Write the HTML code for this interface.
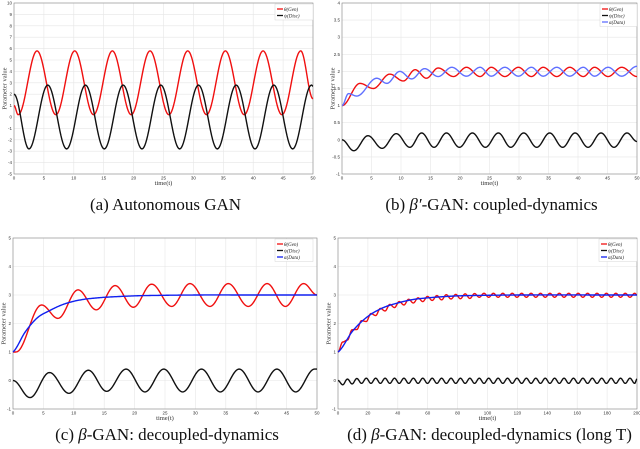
<!DOCTYPE html>
<html><head><meta charset="utf-8"><style>
html,body{margin:0;padding:0;background:#fff;}
svg{display:block;font-family:"Liberation Serif",serif;}
</style></head><body>
<svg id="fig" width="640" height="449" viewBox="0 0 640 449" xmlns="http://www.w3.org/2000/svg"></svg>
<script>
// ---- Panel (a) data: extrema times/values ----
const aRedT = [0,0.7,3.85,7.0,10.15,13.3,16.45,19.6,22.75,25.9,29.05,32.2,35.35,38.5,41.65,44.8,47.95,50];
const aRedV = [1,0.2,5.8,0.2,5.8,0.2,5.8,0.2,5.8,0.2,5.8,0.2,5.8,0.2,5.8,0.2,5.8,1.6];
const aBlkT = [0,2.5,5.65,8.8,11.95,15.1,18.25,21.4,24.55,27.7,30.85,34,37.15,40.3,43.45,46.6,49.75,50];
const aBlkV = [2,-2.8,2.8,-2.8,2.8,-2.8,2.8,-2.8,2.8,-2.8,2.8,-2.8,2.8,-2.8,2.8,-2.8,2.8,2.7];
// ---- Panel (b) ----
const bRedT = [0,3.05,5.3,8.1,10.4,12.4,14.3,16.3,18.9,21.1,23.4,25.3,27.6,29.9,32.1,34.1,36.4,38.6,40.9,42.8,45.1,47.4,50];
const bRedV = [1,1.65,1.5,1.92,1.72,2.05,1.8,2.1,1.85,2.12,1.85,2.12,1.85,2.12,1.85,2.12,1.85,2.12,1.85,2.12,1.85,2.12,1.85];
const bBluT = [0,1.1,2.5,5.9,7.6,9.8,11.8,14.0,16.3,18.6,21.1,23.4,25.3,27.6,29.9,32.1,34.1,36.4,38.6,40.9,42.8,45.1,47.4,50];
const bBluV = [1,1.35,1.28,1.8,1.65,2.0,1.78,2.08,1.85,2.12,1.86,2.12,1.86,2.12,1.86,2.12,1.86,2.12,1.86,2.12,1.86,2.12,1.86,2.15];
const bBlkT = [0,2.0,4.4,6.8,9.2,11.5,13.5,15.6,17.7,19.9,22.1,24.3,26.5,28.6,30.8,33.0,35.2,37.4,39.5,41.7,43.9,46.1,48.3,50];
const bBlkV = [0,-0.32,0.12,-0.25,0.18,-0.22,0.2,-0.22,0.2,-0.22,0.2,-0.22,0.2,-0.22,0.2,-0.22,0.2,-0.22,0.2,-0.22,0.2,-0.22,0.2,-0.05];
// ---- Panel (c) ----
const cRedT = [0,0.5,4.7,7.4,10.7,13.7,16.8,19.8,22.8,26.1,29.1,32.4,35.4,38.7,41.8,44.8,47.8,50];
const cRedV = [1,1,2.65,2.18,3.18,2.48,3.33,2.57,3.38,2.6,3.4,2.6,3.4,2.6,3.4,2.6,3.4,3.0];
const cBluT = [0,2,4,6,8,10,12,15,20,25,30,40,50];
const cBluV = [1,1.7,2.2,2.45,2.65,2.78,2.86,2.92,2.97,2.99,3,3,3];
const cBlkT = [0,2.8,6.0,9.2,12.4,15.4,18.6,21.7,24.8,27.9,31.0,34.1,37.2,40.3,43.4,46.5,49.6,50];
const cBlkV = [0,-0.6,0.28,-0.45,0.36,-0.38,0.4,-0.4,0.4,-0.4,0.4,-0.4,0.4,-0.4,0.4,-0.4,0.4,0.4];
// ---- Panel (d) ----
const dT = [0,3.15,6.3,9.45,12.6,15.75,18.9,22.05,25.2,28.35,31.5,34.65,37.8,40.95,44.1,47.25,50.4,53.55,56.7,59.85,63,66.15,69.3,72.45,75.6,78.75,81.9,85.05,88.2,91.35,94.5,97.65,100.8,103.95,107.1,110.25,113.4,116.55,119.7,122.85,126,129.15,132.3,135.45,138.6,141.75,144.9,148.05,151.2,154.35,157.5,160.65,163.8,166.95,170.1,173.25,176.4,179.55,182.7,185.85,189,192.15,195.3,198.45,200];
const dRedV = [1.0,1.35,1.42,1.78,1.79,2.10,2.07,2.35,2.28,2.53,2.44,2.67,2.56,2.77,2.65,2.85,2.72,2.90,2.77,2.95,2.81,2.98,2.83,3.01,2.86,3.02,2.87,3.04,2.88,3.05,2.92,3.06,2.92,3.06,2.92,3.06,2.92,3.06,2.92,3.06,2.92,3.06,2.92,3.06,2.92,3.06,2.92,3.06,2.92,3.06,2.92,3.06,2.92,3.06,2.92,3.06,2.92,3.06,2.92,3.06,2.92,3.06,2.92,3.06,3.0];
const dBlkV = [0,-0.15,0.05,-0.12,0.07,-0.1,0.08,-0.1,0.08,-0.1,0.08,-0.1,0.08,-0.1,0.08,-0.1,0.08,-0.1,0.08,-0.1,0.08,-0.1,0.08,-0.1,0.08,-0.1,0.08,-0.1,0.08,-0.1,0.08,-0.1,0.08,-0.1,0.08,-0.1,0.08,-0.1,0.08,-0.1,0.08,-0.1,0.08,-0.1,0.08,-0.1,0.08,-0.1,0.08,-0.1,0.08,-0.1,0.08,-0.1,0.08,-0.1,0.08,-0.1,0.08,-0.1,0.08,-0.1,0.08,-0.1,0.05];
const dBluT = [0,10,20,30,40,50,60,70,80,100,120,200];
const dBluV = [1,1.75,2.25,2.55,2.72,2.84,2.9,2.94,2.97,2.99,3,3];
// ---- tick labels ----
const xTicks50 = [0,5,10,15,20,25,30,35,40,45,50];
const xTicks200 = [0,20,40,60,80,100,120,140,160,180,200];
const yTicksA = [-5,-4,-3,-2,-1,0,1,2,3,4,5,6,7,8,9,10];
const yTicksB = [-1,-0.5,0,0.5,1,1.5,2,2.5,3,3.5,4];
const yTicksC = [-1,0,1,2,3,4,5];

const NS = "http://www.w3.org/2000/svg";
const svg = document.getElementById('fig');
function mk(tag, attrs, parent){const e=document.createElementNS(NS,tag);for(const k in attrs)e.setAttribute(k,attrs[k]);(parent||svg).appendChild(e);return e;}

const panels = [
 {id:'a',x0:14,x1:313,y0:3,y1:174,xmin:0,xmax:50,ymin:-5,ymax:10,xt:xTicks50,yt:yTicksA,cap:[['(a)  Autonomous GAN',0]],capY:210,
  series:[{n:'theta-gen',t:aRedT,v:aRedV,c:'#f01010',m:'cos'},{n:'psi-disc',t:aBlkT,v:aBlkV,c:'#111',m:'cos'}],
  leg:{x:275,y:4,w:38}},
 {id:'b',x0:342,x1:637,y0:3,y1:174,xmin:0,xmax:50,ymin:-1,ymax:4,xt:xTicks50,yt:yTicksB,cap:[['(b)  ',0],['β′',1],['-GAN: coupled-dynamics',0]],capY:210,
  series:[{n:'theta-gen',t:bRedT,v:bRedV,c:'#f01010',m:'cos'},{n:'psi-disc',t:bBlkT,v:bBlkV,c:'#111',m:'cos'},{n:'alpha-data',t:bBluT,v:bBluV,c:'#6070ff',m:'cos'}],
  leg:{x:600,y:4,w:37}},
 {id:'c',x0:13,x1:317,y0:238,y1:409,xmin:0,xmax:50,ymin:-1,ymax:5,xt:xTicks50,yt:yTicksC,cap:[['(c)  ',0],['β',1],['-GAN: decoupled-dynamics',0]],capY:440,
  series:[{n:'theta-gen',t:cRedT,v:cRedV,c:'#f01010',m:'cos'},{n:'psi-disc',t:cBlkT,v:cBlkV,c:'#111',m:'cos'},{n:'alpha-data',t:cBluT,v:cBluV,c:'#1020f0',m:'cr'}],
  leg:{x:275,y:239,w:38}},
 {id:'d',x0:338,x1:637,y0:238,y1:409,xmin:0,xmax:200,ymin:-1,ymax:5,xt:xTicks200,yt:yTicksC,cap:[['(d)  ',0],['β',1],['-GAN: decoupled-dynamics (long T)',0]],capY:440,
  series:[{n:'theta-gen',t:dT,v:dRedV,c:'#f01010',m:'cos'},{n:'psi-disc',t:dT,v:dBlkV,c:'#111',m:'cos'},{n:'alpha-data',t:dBluT,v:dBluV,c:'#1020f0',m:'cr'}],
  leg:{x:599,y:239,w:38}}
];
const legNames = {'theta-gen':'θ(Gen)','psi-disc':'ψ(Disc)','alpha-data':'α(Data)'};

panels.forEach(p=>{
  const g = mk('g',{});
  
  
  const sx = t=>p.x0+(t-p.xmin)/(p.xmax-p.xmin)*(p.x1-p.x0);
  const sy = v=>p.y1-(v-p.ymin)/(p.ymax-p.ymin)*(p.y1-p.y0);
  const bg = mk('rect',{x:p.x0,y:p.y0,width:p.x1-p.x0,height:p.y1-p.y0,fill:'#fff',stroke:'none'},g);
  
  
  p.xt.forEach(t=>{
    const l=mk('line',{x1:sx(t),x2:sx(t),y1:p.y0,y2:p.y1,stroke:'#e6e6e6','stroke-width':0.6},g);
    
    
    const tx=mk('text',{x:sx(t),y:p.y1+5.5,'font-size':4.5,'text-anchor':'middle',fill:'#333','font-family':'Liberation Sans, sans-serif'},g);
    tx.textContent=t;
    
    
  });
  p.yt.forEach(v=>{
    const l=mk('line',{x1:p.x0,x2:p.x1,y1:sy(v),y2:sy(v),stroke:'#e6e6e6','stroke-width':0.6},g);
    
    
    const tx=mk('text',{x:p.x0-2,y:sy(v)+1.5,'font-size':4.5,'text-anchor':'end',fill:'#333','font-family':'Liberation Sans, sans-serif'},g);
    tx.textContent=v;
    
    
  });
  const fr=mk('rect',{x:p.x0,y:p.y0,width:p.x1-p.x0,height:p.y1-p.y0,fill:'none',stroke:'#888','stroke-width':0.6},g);
  
  
  p.series.forEach(s=>{
    let d='';
    const N=s.t.length;
    for(let i=0;i<N-1;i++){
      const steps=20;
      for(let k=0;k<=steps;k++){
        if(i>0&&k===0)continue;
        const u=k/steps;
        const t=s.t[i]+(s.t[i+1]-s.t[i])*u;
        let v;
        if(s.m==='cos'){v=s.v[i]+(s.v[i+1]-s.v[i])*(1-Math.cos(Math.PI*u))/2;}
        else{
          const p0=s.v[Math.max(0,i-1)],p1=s.v[i],p2=s.v[i+1],p3=s.v[Math.min(N-1,i+2)];
          v=0.5*((2*p1)+(-p0+p2)*u+(2*p0-5*p1+4*p2-p3)*u*u+(-p0+3*p1-3*p2+p3)*u*u*u);
        }
        d+=(d?'L':'M')+sx(t).toFixed(2)+' '+sy(v).toFixed(2);
      }
    }
    const path=mk('path',{d:d,fill:'none',stroke:s.c,'stroke-width':1.4,'stroke-linejoin':'round'},g);
    
    
  });
  const L=p.leg;
  const lh=6.5*p.series.length+3;
  const lg=mk('g',{},g);
  
  
  mk('rect',{x:L.x,y:L.y,width:L.w,height:lh,fill:'#fff',stroke:'#ccc','stroke-width':0.4},lg);
  p.series.forEach((s,i)=>{
    const yy=L.y+5+i*6.5;
    const ln=mk('line',{x1:L.x+2,x2:L.x+8,y1:yy,y2:yy,stroke:s.c,'stroke-width':1.3},lg);
    
    
    const tx=mk('text',{x:L.x+9,y:yy+1.8,'font-size':5,'font-style':'italic',fill:'#222'},lg);
    tx.textContent=legNames[s.n];
    
    
  });
  const xl=mk('text',{x:(p.x0+p.x1)/2,y:p.y1+11,'font-size':6.5,'text-anchor':'middle',fill:'#333'},g);
  xl.textContent='time(t)';
  
  
  const yx=p.x0-7.5, yc=(p.y0+p.y1)/2;
  const yl=mk('text',{x:yx,y:yc,'font-size':6.5,'text-anchor':'middle',fill:'#333',transform:'rotate(-90 '+yx+' '+yc+')'},g);
  yl.textContent='Parameter value';
  
  
  const cp=mk('text',{x:(p.x0+p.x1)/2+2,y:p.capY,'font-size':17,'text-anchor':'middle',fill:'#111'},g);
  p.cap.forEach(part=>{
    const ts=mk('tspan',part[1]?{'font-style':'italic'}:{},cp);
    ts.textContent=part[0];
  });
  
  
});
</script>
</body></html>
